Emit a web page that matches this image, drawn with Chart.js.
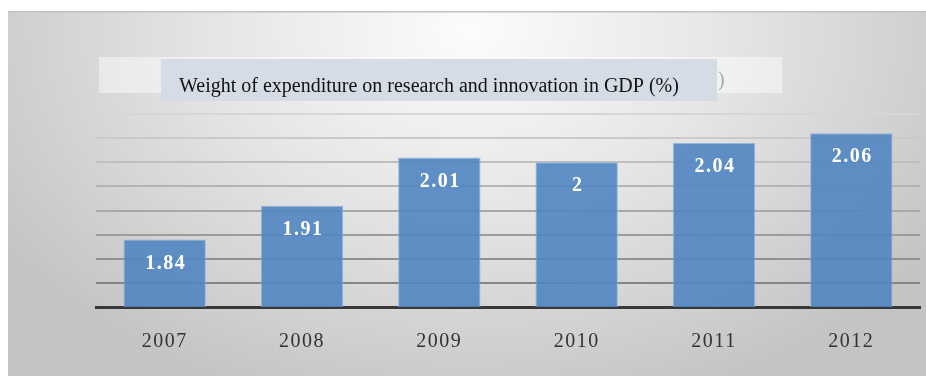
<!DOCTYPE html>
<html>
<head>
<meta charset="utf-8">
<script src="https://cdn.jsdelivr.net/npm/chart.js@4.4.1/dist/chart.umd.min.js"></script>
<style>
  html, body { margin: 0; padding: 0; background: #fff; }
  #moldura { width: 926px; height: 378px; }
</style>
</head>
<body>
<div id="moldura"><canvas id="graficoPib"></canvas></div>
<script>
const anos = ['2007', '2008', '2009', '2010', '2011', '2012'];
const pesoDespesa = [1.84, 1.91, 2.01, 2, 2.04, 2.06];
const titulo = 'Weight of expenditure on research and innovation in GDP (%)';

// gridlines get lighter towards the top
const cinzasGrade = ['rgba(0,0,0,0)', '#858585', '#909090', '#9c9c9c', '#a8a8a8', '#b4b4b4', '#bfbfbf', '#cacaca', '#d6d6d6'];

const fundoPainel = {
    id: 'fundoPainel',
    beforeDraw(chart) {
        const ctx = chart.ctx;
        ctx.save();
        ctx.fillStyle = '#fff';
        ctx.fillRect(0, 0, chart.width, chart.height);

        // panel with a soft radial shade
        ctx.save();
        ctx.beginPath();
        ctx.rect(8, 12, 918, 364);
        ctx.clip();
        ctx.translate(470, 30);
        ctx.scale(1, 0.7);
        const grad = ctx.createRadialGradient(0, 0, 0, 0, 0, 560);
        grad.addColorStop(0, '#fcfcfc');
        grad.addColorStop(0.45, '#e6e6e6');
        grad.addColorStop(1, '#c4c4c4');
        ctx.fillStyle = grad;
        ctx.fillRect(-600, -100, 1300, 900);
        ctx.restore();

        ctx.fillStyle = '#c2c2c2';
        ctx.fillRect(8, 11, 918, 1.5);

        // faded box under the title
        ctx.fillStyle = 'rgba(255,255,255,0.45)';
        ctx.fillRect(99, 57, 683, 36);
        ctx.font = '20px "Liberation Serif"';
        ctx.fillStyle = '#a8a8a8';
        ctx.textBaseline = 'alphabetic';
        ctx.fillText(')', 718, 86);

        // title box
        ctx.fillStyle = '#d5dce5';
        ctx.fillRect(161, 59, 556, 42);
        ctx.fillStyle = '#111';
        ctx.fillText(titulo, 179, 92);
        ctx.restore();

        ctx.letterSpacing = '1.5px';
    }
};

const rotulosBarras = {
    id: 'rotulosBarras',
    afterDatasetsDraw(chart) {
        const ctx = chart.ctx;
        const meta = chart.getDatasetMeta(0);
        ctx.save();
        ctx.font = 'bold 20px "Liberation Serif"';
        ctx.letterSpacing = '1.5px';
        ctx.fillStyle = '#fff';
        ctx.textAlign = 'center';
        ctx.textBaseline = 'middle';
        meta.data.forEach((barra, i) => {
            ctx.fillText(String(pesoDespesa[i]), barra.x + 1, barra.y + 24);
        });
        ctx.restore();
    }
};

const graficoPib = new Chart(document.getElementById('graficoPib'), {
    type: 'bar',
    data: {
        labels: anos,
        datasets: [{
            label: titulo,
            data: pesoDespesa,
            backgroundColor: 'rgba(81,133,194,0.9)',
            borderColor: 'rgba(140,178,222,0.9)',
            borderWidth: 1,
            barPercentage: 0.6,
            categoryPercentage: 1
        }]
    },
    options: {
        responsive: true,
        maintainAspectRatio: false,
        animation: false,
        layout: { padding: { left: 96, right: 6, top: 114, bottom: 9 } },
        plugins: {
            legend: { display: false },
            title: { display: false },
            tooltip: { enabled: false }
        },
        scales: {
            x: {
                grid: { display: false },
                border: { color: '#383838', width: 3 },
                ticks: {
                    color: '#333',
                    padding: 15,
                    font: { family: '"Liberation Serif"', size: 20 }
                }
            },
            y: {
                min: 1.7,
                max: 2.1,
                ticks: { display: false, stepSize: 0.05 },
                border: { display: false },
                grid: {
                    drawTicks: false,
                    lineWidth: 2,
                    color: (c) => cinzasGrade[c.index] || '#d6d6d6'
                }
            }
        }
    },
    plugins: [fundoPainel, rotulosBarras]
});
</script>
</body>
</html>
